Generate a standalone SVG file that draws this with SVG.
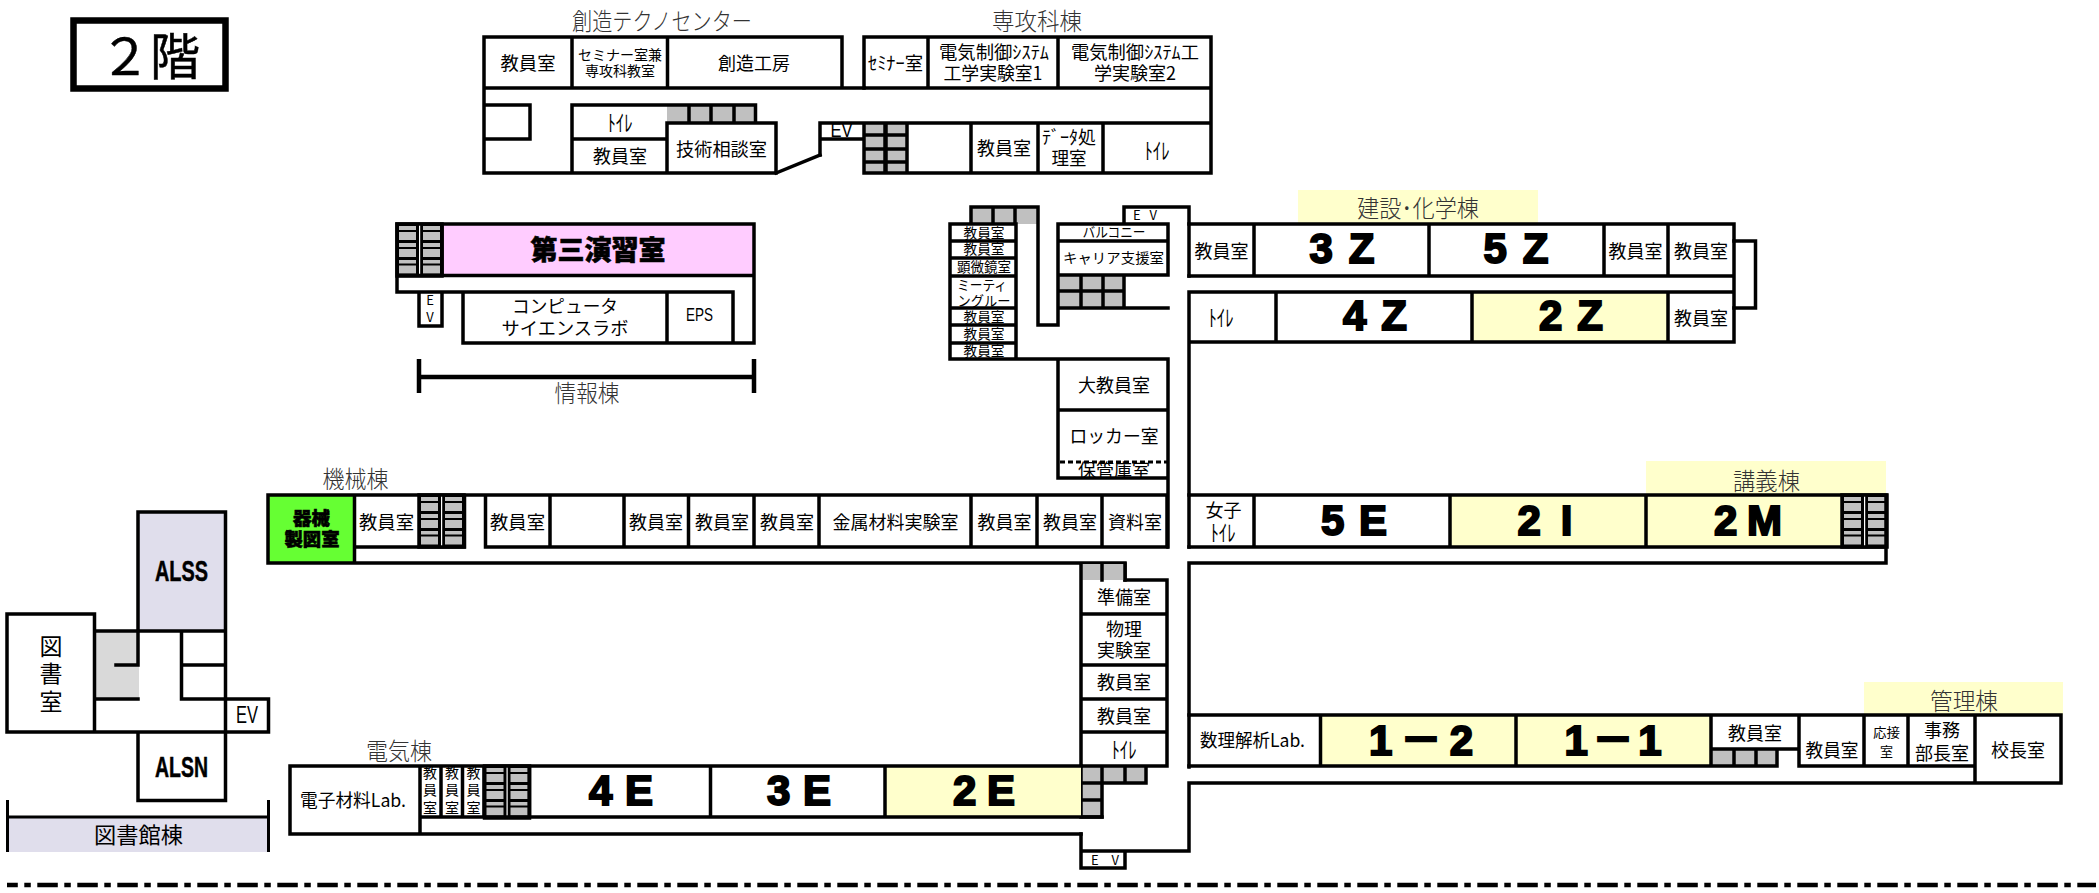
<svg xmlns="http://www.w3.org/2000/svg" xmlns:xlink="http://www.w3.org/1999/xlink" width="2099" height="893" viewBox="0 0 2099 893">
<style>
text{font-family:"Noto Sans CJK JP","Liberation Sans",sans-serif;text-anchor:middle;dominant-baseline:central;fill:#000;font-size:18px;transform:translateY(-1px)}
.w{fill:none;stroke:#000;stroke-width:3.500;stroke-linecap:square}
.g{fill:#c0c0c0}
.y{fill:#ffc}
.l{font-size:24px;font-weight:300;fill:#333}
.s{font-size:14px}
.m{font-size:14px}
.t{font-size:23px}
.big{font-family:"Liberation Sans","Noto Sans CJK JP",sans-serif;font-weight:700;font-size:42px;dominant-baseline:alphabetic;stroke:#000;stroke-width:2;fill:#000;transform:none}
.hv{font-weight:900;stroke:#000;stroke-width:.6;fill:#000}
</style>
<defs>
<g id="stair">
<rect x="-1.750" y="-1.750" width="48.500" height="55.500" fill="#000"/>
<rect x="22" y="0" width="1.200" height="52" fill="#fff"/>
<g class="g">
<path d="M2 2h17v4H2zM26 2h17v4H26zM2 8h17v8H2zM26 8h17v8H26zM2 19h17v4H2zM26 19h17v4H26zM2 25h17v8H2zM26 25h17v8H26zM2 36h17v3.500H2zM26 36h17v3.500H26zM2 41.500h17v8H2zM26 41.500h17v8H26z"/>
</g>
</g>
</defs>
<rect width="2099" height="893" fill="#fff"/>

<g id="title"><rect x="73.500" y="20.500" width="152" height="68" fill="#fff" stroke="#000" stroke-width="6.500"/><text x="150" y="54" style="font-size:50px;stroke:#000;stroke-width:.5">２階</text></g>

<g id="connectors">
<path class="w" d="M1734 241H1755.500V308H1734"/>
<path class="w" d="M776 173L820 155"/>
<path d="M7 885H2096" fill="none" stroke="#000" stroke-width="4.500" stroke-dasharray="20.500 6.500 6.500 6.500" stroke-dashoffset="9.700"/>
</g>

<g id="sozo">
<rect class="g" x="667" y="105" width="88.500" height="18"/>
<path class="w" d="M484 37H842V88M484 37V173H776V123H667V173M484 88H864M572 37V88M667.500 37V88M484 105H530V139H484M572 173V105H755.500V123M572 139H667M689 105V123M711 105V123M734 105V123"/>
<text x="662" y="20" class="l" textLength="180" lengthAdjust="spacingAndGlyphs">創造テクノセンター</text>
<text x="528" y="63" textLength="55" lengthAdjust="spacingAndGlyphs">教員室</text>
<text x="620" y="55" class="s" textLength="84" lengthAdjust="spacingAndGlyphs">セミナー室兼</text>
<text x="620" y="71" class="s" textLength="70" lengthAdjust="spacingAndGlyphs">専攻科教室</text>
<text x="754" y="63" textLength="72" lengthAdjust="spacingAndGlyphs">創造工房</text>
<text x="620" y="122" class="t" textLength="25" lengthAdjust="spacingAndGlyphs">ﾄｲﾚ</text>
<text x="620" y="156" textLength="54" lengthAdjust="spacingAndGlyphs">教員室</text>
<text x="721.500" y="149" textLength="91" lengthAdjust="spacingAndGlyphs">技術相談室</text>
</g>

<g id="senko">
<rect class="g" x="864" y="123" width="43" height="50"/>
<path class="w" d="M864 88V37H1211V173H864V123M864 88H1211M928 37V88M1058 37V88M820 123H1211M820 123V155M820 139H864M907 123V173M971 123V173M1038 123V173M1103 123V173M864 135H907M864 149H907M864 162H907"/>
<path d="M885.500 123V173" stroke="#000" stroke-width="4.500"/>
<text x="841.500" y="131" style="font-size:20px;font-family:'Liberation Sans',sans-serif" textLength="22" lengthAdjust="spacingAndGlyphs">EV</text>
<text x="1037" y="20" class="l" textLength="90" lengthAdjust="spacingAndGlyphs">専攻科棟</text>
<text x="895.500" y="63" textLength="55" lengthAdjust="spacingAndGlyphs">ｾﾐﾅｰ室</text>
<text x="994" y="52" textLength="110" lengthAdjust="spacingAndGlyphs">電気制御ｼｽﾃﾑ</text>
<text x="993" y="73" textLength="99" lengthAdjust="spacingAndGlyphs">工学実験室1</text>
<text x="1135" y="52" textLength="128" lengthAdjust="spacingAndGlyphs">電気制御ｼｽﾃﾑ工</text>
<text x="1135" y="73" textLength="82" lengthAdjust="spacingAndGlyphs">学実験室2</text>
<text x="1004" y="148" textLength="54" lengthAdjust="spacingAndGlyphs">教員室</text>
<text x="1069" y="137" textLength="54" lengthAdjust="spacingAndGlyphs">ﾃﾞｰﾀ処</text>
<text x="1069" y="158" textLength="35" lengthAdjust="spacingAndGlyphs">理室</text>
<text x="1157" y="150" class="t" textLength="25" lengthAdjust="spacingAndGlyphs">ﾄｲﾚ</text>
</g>

<g id="joho">
<rect x="442" y="224" width="312" height="51.500" fill="#fcf"/>
<use xlink:href="#stair" href="#stair" transform="translate(397 224)"/>
<path class="w" d="M397 224H754V343H463V292H733V343M397 224V292H733M397 275.500H754M442 224V275.500M667 292V343M419 292V326H442V292"/>
<path d="M419 359V393M754 359V393M419 377H754" fill="none" stroke="#000" stroke-width="4.500"/>
<text x="598" y="249" class="hv" style="font-size:27px">第三演習室</text>
<text x="430" y="300" style="font-size:13px">E</text>
<text x="430" y="317" style="font-size:13px">V</text>
<text x="565" y="306" textLength="106" lengthAdjust="spacingAndGlyphs">コンピュータ</text>
<text x="565" y="328" textLength="127" lengthAdjust="spacingAndGlyphs">サイエンスラボ</text>
<text x="699.500" y="316" style="font-family:'Liberation Sans',sans-serif" textLength="27" lengthAdjust="spacingAndGlyphs">EPS</text>
<text x="587" y="392" class="l" textLength="65" lengthAdjust="spacingAndGlyphs">情報棟</text>
</g>

<g id="center">
<rect class="g" x="971" y="207" width="67" height="17"/>
<rect class="g" x="1058" y="275" width="66" height="33"/>
<path class="w" d="M950 224V359H1168M950 224H1016V359M950 241H1016M950 258H1016M950 276H1016M950 308H1016M950 325H1016M950 343H1016M971 224V207H1038V325H1058V224H1168V275H1058M1058 241H1168M993 207V224M1015 207V224M1124 224V207H1189V276M1168 224V275M1124 275V308M1058 308H1168M1081 275V308M1103 275V308M1058 291H1124M1058 359V478H1168M1058 410H1168M1168 359V547"/>
<text x="1145" y="215" style="font-size:13px" textLength="24" lengthAdjust="spacing">E V</text>
<text x="984" y="232.500" class="m" textLength="41" lengthAdjust="spacingAndGlyphs">教員室</text>
<text x="984" y="249" class="m" textLength="41" lengthAdjust="spacingAndGlyphs">教員室</text>
<text x="984" y="267" class="m" textLength="54" lengthAdjust="spacingAndGlyphs">顕微鏡室</text>
<text x="982" y="285" class="m" textLength="50" lengthAdjust="spacingAndGlyphs">ミーティ</text>
<text x="984" y="301" class="m" textLength="53" lengthAdjust="spacingAndGlyphs">ングルー</text>
<text x="984" y="317" class="m" textLength="41" lengthAdjust="spacingAndGlyphs">教員室</text>
<text x="984" y="334" class="m" textLength="41" lengthAdjust="spacingAndGlyphs">教員室</text>
<text x="984" y="351" class="m" textLength="41" lengthAdjust="spacingAndGlyphs">教員室</text>
<text x="1114" y="232" class="m" textLength="63" lengthAdjust="spacingAndGlyphs">バルコニー</text>
<text x="1113.500" y="258" class="m" textLength="101" lengthAdjust="spacingAndGlyphs">キャリア支援室</text>
<text x="1114" y="385" textLength="72" lengthAdjust="spacingAndGlyphs">大教員室</text>
<text x="1114" y="436" textLength="89" lengthAdjust="spacingAndGlyphs">ロッカー室</text>
<text x="1114" y="470" textLength="72" lengthAdjust="spacingAndGlyphs">保管庫室</text>
<path d="M1060 462H1167" stroke="#000" stroke-width="3" stroke-dasharray="5 3" fill="none"/>
</g>

<g id="kensetsu">
<rect class="y" x="1298" y="190" width="240" height="34"/>
<rect class="y" x="1472" y="292" width="196" height="50"/>
<path class="w" d="M1189 224H1734V342H1189M1189 276H1734M1189 292H1734M1254 224V276M1429 224V276M1604 224V276M1668 224V276M1276 292V342M1472 292V342M1668 292V342M1189 292V547"/>
<text x="1418" y="207" class="l" textLength="122" lengthAdjust="spacingAndGlyphs">建設･化学棟</text>
<text x="1221.500" y="251" textLength="54" lengthAdjust="spacingAndGlyphs">教員室</text>
<text x="1342" y="263" class="big" textLength="65" lengthAdjust="spacing">3 Z</text>
<text x="1516" y="263" class="big" textLength="65" lengthAdjust="spacing">5 Z</text>
<text x="1635.500" y="251" textLength="54" lengthAdjust="spacingAndGlyphs">教員室</text>
<text x="1701" y="251" textLength="54" lengthAdjust="spacingAndGlyphs">教員室</text>
<text x="1221" y="317" class="t" textLength="25" lengthAdjust="spacingAndGlyphs">ﾄｲﾚ</text>
<text x="1375" y="330" class="big" textLength="64" lengthAdjust="spacing">4 Z</text>
<text x="1571" y="330" class="big" textLength="64" lengthAdjust="spacing">2 Z</text>
<text x="1701" y="318" textLength="54" lengthAdjust="spacingAndGlyphs">教員室</text>
</g>

<g id="kikai">
<rect x="268" y="495" width="86.500" height="68" fill="#6f3"/>
<use xlink:href="#stair" href="#stair" transform="translate(419 495)"/>
<path class="w" d="M268 495H1167V547H485.500V495M268 495V563H1125V580M354.500 495V563M354.500 547H464.500V495M550 495V547M624 495V547M688.500 495V547M754 495V547M819 495V547M971 495V547M1037 495V547M1102 495V547"/>
<text x="355.500" y="478" class="l" textLength="66" lengthAdjust="spacingAndGlyphs">機械棟</text>
<text x="311.500" y="518" class="hv" textLength="37" lengthAdjust="spacingAndGlyphs">器械</text>
<text x="312" y="539" class="hv" textLength="55" lengthAdjust="spacingAndGlyphs">製図室</text>
<text x="386.500" y="522" textLength="55" lengthAdjust="spacingAndGlyphs">教員室</text>
<text x="517.500" y="522" textLength="55" lengthAdjust="spacingAndGlyphs">教員室</text>
<text x="656" y="522" textLength="54" lengthAdjust="spacingAndGlyphs">教員室</text>
<text x="722" y="522" textLength="54" lengthAdjust="spacingAndGlyphs">教員室</text>
<text x="787" y="522" textLength="54" lengthAdjust="spacingAndGlyphs">教員室</text>
<text x="895.500" y="522" textLength="126" lengthAdjust="spacingAndGlyphs">金属材料実験室</text>
<text x="1004.500" y="522" textLength="54" lengthAdjust="spacingAndGlyphs">教員室</text>
<text x="1070" y="522" textLength="54" lengthAdjust="spacingAndGlyphs">教員室</text>
<text x="1135" y="522" textLength="54" lengthAdjust="spacingAndGlyphs">資料室</text>
</g>

<g id="butsuri">
<rect class="g" x="1081" y="564" width="44" height="16"/>
<rect class="g" x="1081" y="766" width="65" height="17"/>
<rect class="g" x="1081" y="783" width="21" height="34"/>
<path class="w" d="M1081 564V817M1125 564V580H1167V766H1081M1081 614H1167M1081 665H1167M1081 699H1167M1081 732H1167M1102 564V580M1102 766V817H1081M1125 766V783M1146 766V783H1081M1081 800H1102"/>
<text x="1124" y="597" textLength="54" lengthAdjust="spacingAndGlyphs">準備室</text>
<text x="1124" y="629" textLength="36" lengthAdjust="spacingAndGlyphs">物理</text>
<text x="1124" y="650" textLength="54" lengthAdjust="spacingAndGlyphs">実験室</text>
<text x="1124" y="682" textLength="54" lengthAdjust="spacingAndGlyphs">教員室</text>
<text x="1124" y="716" textLength="54" lengthAdjust="spacingAndGlyphs">教員室</text>
<text x="1124" y="749" class="t" textLength="25" lengthAdjust="spacingAndGlyphs">ﾄｲﾚ</text>
</g>

<g id="kogi">
<rect class="y" x="1646" y="461" width="240" height="34"/>
<rect class="y" x="1450" y="495" width="392.500" height="52"/>
<use xlink:href="#stair" href="#stair" transform="translate(1842 495)"/>
<path class="w" d="M1189 495H1886V563H1189V767M1189 547H1886M1254 495V547M1450 495V547M1646 495V547"/>
<text x="1766.500" y="480" class="l" textLength="67" lengthAdjust="spacingAndGlyphs">講義棟</text>
<text x="1223.500" y="510" textLength="36" lengthAdjust="spacingAndGlyphs">女子</text>
<text x="1223" y="532" class="t" textLength="25" lengthAdjust="spacingAndGlyphs">ﾄｲﾚ</text>
<text x="1354" y="535" class="big" textLength="66" lengthAdjust="spacing">5 E</text>
<text x="1545" y="535" class="big" textLength="55" lengthAdjust="spacing">2 I</text>
<text x="1748" y="535" class="big" textLength="68" lengthAdjust="spacing">2 M</text>
</g>

<g id="denki">
<rect class="y" x="885" y="766" width="196" height="51"/>
<use xlink:href="#stair" href="#stair" transform="translate(484.500 766)"/>
<path class="w" d="M290 766H1081M290 766V834H1081M420 766V834M420 817H1102M441 766V817M462.500 766V817M484 766V817M529.500 766V817M710.500 766V817M885 766V817"/>
<text x="399" y="750" class="l" textLength="66" lengthAdjust="spacingAndGlyphs">電気棟</text>
<text x="353" y="800" textLength="106" lengthAdjust="spacingAndGlyphs">電子材料Lab.</text>
<text x="430" y="773" class="m">教</text><text x="430" y="790" class="m">員</text><text x="430" y="808" class="m">室</text>
<text x="452" y="773" class="m">教</text><text x="452" y="790" class="m">員</text><text x="452" y="808" class="m">室</text>
<text x="473.500" y="773" class="m">教</text><text x="473.500" y="790" class="m">員</text><text x="473.500" y="808" class="m">室</text>
<text x="621" y="805" class="big" textLength="64" lengthAdjust="spacing">4 E</text>
<text x="799" y="805" class="big" textLength="64" lengthAdjust="spacing">3 E</text>
<text x="984" y="805" class="big" textLength="62" lengthAdjust="spacing">2 E</text>
</g>

<g id="kanri">
<rect class="y" x="1864" y="682" width="199" height="33"/>
<rect class="y" x="1320.500" y="715" width="390.500" height="51"/>
<rect class="g" x="1711" y="749" width="66" height="17"/>
<path class="w" d="M1189 715H2061V783H1189V851H1081V868H1125V851M1081 834V851M1189 766H1777V749H1711M1711 749H1799M1799 715V766H1975M1320.500 715V766M1516 715V766M1711 715V766M1864 715V766M1908 715V766M1975 715V783M1734 749V766M1756 749V766"/>
<text x="1105" y="860" style="font-size:13px" textLength="28" lengthAdjust="spacing">E V</text>
<text x="1964" y="700" class="l" textLength="68" lengthAdjust="spacingAndGlyphs">管理棟</text>
<text x="1252.500" y="740" textLength="105" lengthAdjust="spacingAndGlyphs">数理解析Lab.</text>
<text x="1421" y="755" class="big" textLength="104" lengthAdjust="spacing">1－2</text>
<text x="1613" y="755" class="big" textLength="97" lengthAdjust="spacing">1－1</text>
<text x="1755" y="733" textLength="54" lengthAdjust="spacingAndGlyphs">教員室</text>
<text x="1832" y="750" textLength="53" lengthAdjust="spacingAndGlyphs">教員室</text>
<text x="1886.500" y="732" style="font-size:13px" textLength="27" lengthAdjust="spacingAndGlyphs">応接</text>
<text x="1886.500" y="751" style="font-size:13px">室</text>
<text x="1942" y="730" textLength="36" lengthAdjust="spacingAndGlyphs">事務</text>
<text x="1942" y="753" textLength="54" lengthAdjust="spacingAndGlyphs">部長室</text>
<text x="2018" y="750" textLength="54" lengthAdjust="spacingAndGlyphs">校長室</text>
</g>

<g id="library">
<rect x="138" y="512" width="87.500" height="119" fill="#e0deec"/>
<rect x="95" y="631" width="44" height="68" fill="#d9d9d9"/>
<rect x="7.500" y="817" width="261" height="35" fill="#e0deec"/>
<path class="w" d="M7 614H94.500V732H7ZM138 631V512H225.500V732M94.500 631H225.500M138 631V665H116M181.500 631V699H225.500M181.500 665H225.500M94.500 699H138M7 732H268.500V699H225.500M138 732V800.500H225.500V732"/>
<path d="M7.500 800V852M268.500 800V852M7.500 817H268.500" fill="none" stroke="#000" stroke-width="3"/>
<text x="51" y="646" style="font-size:23px">図</text>
<text x="51" y="673" style="font-size:23px">書</text>
<text x="51" y="701" style="font-size:23px">室</text>
<text x="181.500" y="581" class="big" style="font-size:29px;stroke-width:.5" textLength="53" lengthAdjust="spacingAndGlyphs">ALSS</text>
<text x="181.500" y="777" class="big" style="font-size:29px;stroke-width:.5" textLength="53" lengthAdjust="spacingAndGlyphs">ALSN</text>
<text x="247" y="715" style="font-size:24px;font-family:'Liberation Sans',sans-serif" textLength="22" lengthAdjust="spacingAndGlyphs">EV</text>
<text x="138.500" y="834" style="font-size:22px" textLength="89" lengthAdjust="spacingAndGlyphs">図書館棟</text>
</g>
</svg>
